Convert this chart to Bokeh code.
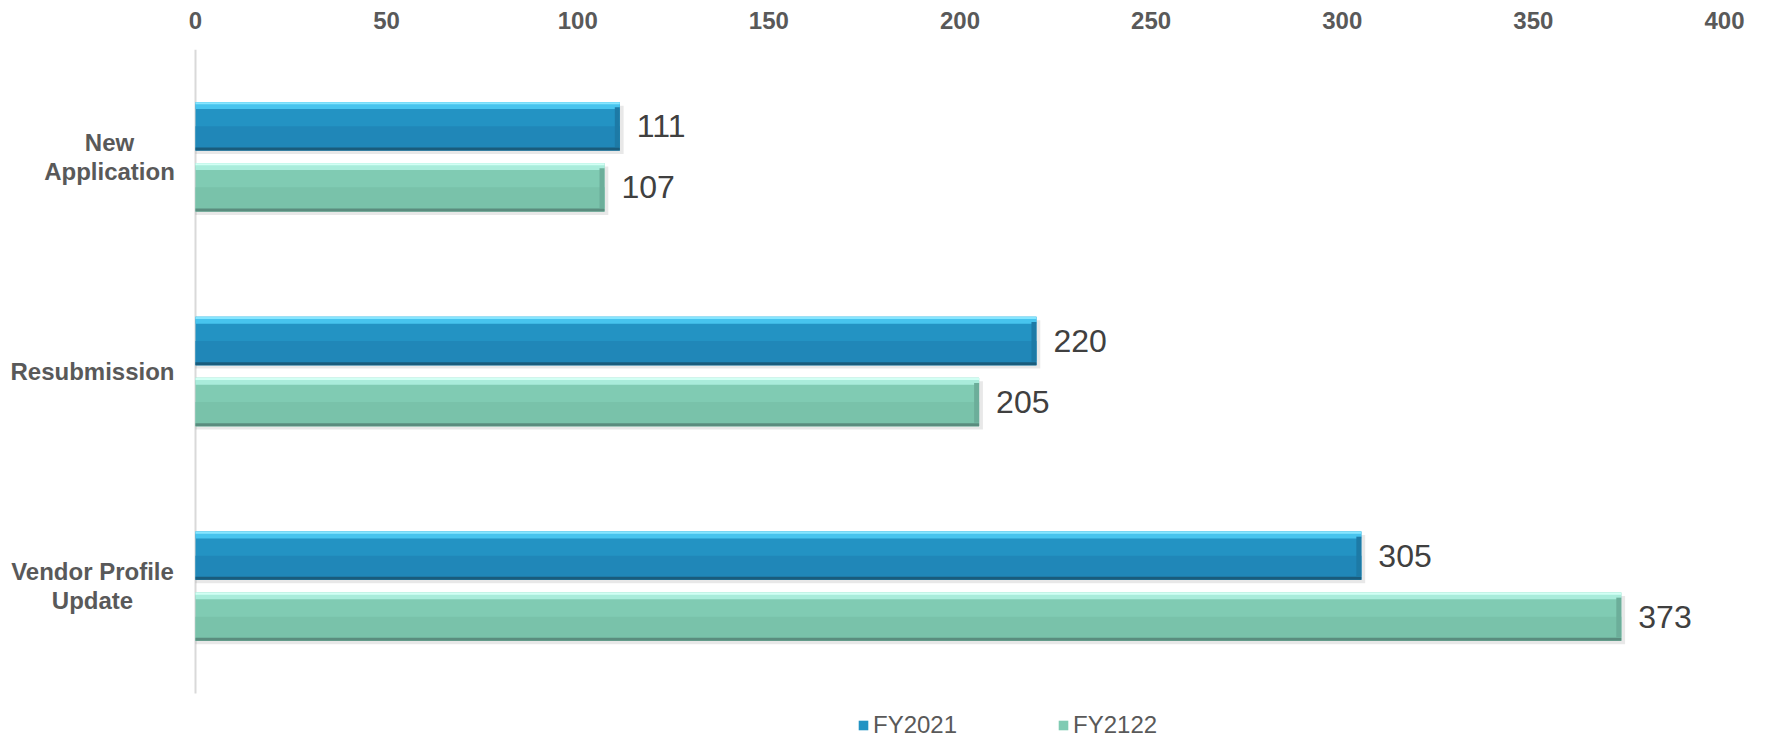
from bokeh.plotting import figure
from bokeh.models import FixedTicker, Legend, LegendItem, ColumnDataSource, Range1d
from bokeh.transform import dodge
from bokeh.core.properties import value
from bokeh.embed import file_html
from bokeh.resources import INLINE

categories = ["New Application", "Resubmission", "Vendor Profile Update"]
category_labels = ["New\nApplication", "Resubmission", "Vendor Profile\nUpdate"]
fy2021 = [111, 220, 305]
fy2122 = [107, 205, 373]
series_names = ["FY2021", "FY2122"]
x_ticks = [0, 50, 100, 150, 200, 250, 300, 350, 400]

# style: horizontal pixel offset of each category label's centre from the axis
label_center_offsets = [-86, -103, -103]

n = len(categories)
# category band centres, first category at the top
ypos = [n - i - 0.5 for i in range(n)]

src = ColumnDataSource(dict(cat=categories, lab=category_labels, y=ypos,
                            zero=[0] * n, lab_dx=label_center_offsets,
                            a=fy2021, b=fy2122,
                            a_txt=[str(v) for v in fy2021],
                            b_txt=[str(v) for v in fy2122]))

W, H = 1767, 740
X0_PX, X1_PX = 195, 1724          # pixel positions of 0 and 400
TOP, BAND_BOTTOM = 49, 693        # plot area of the category bands
ppu_x = (X1_PX - X0_PX) / (x_ticks[-1] - x_ticks[0])
ppu_y = (BAND_BOTTOM - TOP) / n

p = figure(width=W, height=H, output_backend="svg", toolbar_location=None,
           x_range=Range1d(x_ticks[0] - X0_PX / ppu_x, x_ticks[-1] + (W - X1_PX) / ppu_x),
           y_range=Range1d(-(H - BAND_BOTTOM) / ppu_y, n),
           x_axis_location="above",
           min_border_left=0, min_border_right=0, min_border_top=TOP,
           min_border_bottom=0)
p.outline_line_color = None
p.grid.visible = False
p.yaxis.visible = False
p.background_fill_color = "white"

# vertical category axis line
p.segment(x0=[0], y0=[0], x1=[0], y1=[n], line_color="#d9d9d9", line_width=2)

BAR_H = 0.225
OFF = 0.142
END_W = 5 / ppu_x   # width of the bevel at the bar end
series = [
    # col, offset, main, lower, top band, top line, bottom edge, end bevel
    ("a", OFF, "#2393c3", "#2087b8", "#47c4ee", "#86e6ff", "#1a5c7c", "#1d7aa6"),
    ("b", -OFF, "#80cbb3", "#79c2aa", "#a9ecdb", "#d2fff4", "#5a8c7e", "#6cae9a"),
]
main_renderers = []
for col, off, main, lower, topband, topline, bot, endc in series:
    yc = off
    # soft shadow
    p.hbar(y=dodge("y", yc - 0.016), right=dodge(col, 1.0), left=0,
           height=BAR_H, source=src, fill_color="#000000", fill_alpha=0.09,
           line_color=None)
    r = p.hbar(y=dodge("y", yc), right=col, left=0,
               height=BAR_H, source=src, fill_color=main, line_color=None)
    main_renderers.append(r)
    # darker lower part (gradient impression)
    p.hbar(y=dodge("y", yc - BAR_H / 4), right=col, left=0,
           height=BAR_H / 2, source=src, fill_color=lower, line_color=None)
    # highlight bevel at top
    p.hbar(y=dodge("y", yc + BAR_H / 2 - 0.016), right=col, left=0,
           height=0.032, source=src, fill_color=topband, line_color=None)
    p.hbar(y=dodge("y", yc + BAR_H / 2 - 0.005), right=col, left=0,
           height=0.010, source=src, fill_color=topline, line_color=None)
    # dark bevel at bottom
    p.hbar(y=dodge("y", yc - BAR_H / 2 + 0.007), right=col, left=0,
           height=0.014, source=src, fill_color=bot, line_color=None)
    # bevel at the bar end
    p.hbar(y=dodge("y", yc - 0.004), right=col, left=dodge(col, -END_W),
           height=BAR_H - 0.040, source=src, fill_color=endc, line_color=None)
    p.text(x=col, y=dodge("y", yc), text=col + "_txt", source=src,
           x_offset=17, text_baseline="middle", text_align="left",
           text_font=value("Liberation Sans"), text_font_size="32px",
           text_color="#404040")

# category labels (multi-line, centred lines like the reference)
p.text(x="zero", y="y", text="lab", source=src, x_offset="lab_dx",
       text_baseline="middle", text_align="center", text_line_height=1.05,
       text_font=value("Liberation Sans"), text_font_style="bold",
       text_font_size="24px", text_color="#595959")

xa = p.xaxis[0]
xa.ticker = FixedTicker(ticks=x_ticks)
xa.axis_line_color = None
xa.major_tick_line_color = None
xa.minor_tick_line_color = None
xa.major_label_text_font = "Liberation Sans"
xa.major_label_text_font_style = "bold"
xa.major_label_text_font_size = "24px"
xa.major_label_text_color = "#595959"
xa.major_label_standoff = 15

legend = Legend(items=[LegendItem(label=series_names[0], renderers=[main_renderers[0]]),
                       LegendItem(label=series_names[1], renderers=[main_renderers[1]])],
                orientation="horizontal", location=(857, 1),
                label_text_font="Liberation Sans", label_text_font_size="24px",
                label_text_color="#595959", glyph_width=12, glyph_height=12,
                label_standoff=4, spacing=100, padding=0, margin=0,
                border_line_color=None, background_fill_alpha=0)
p.add_layout(legend, "center")

open("out.html", "w").write(file_html(p, INLINE))
